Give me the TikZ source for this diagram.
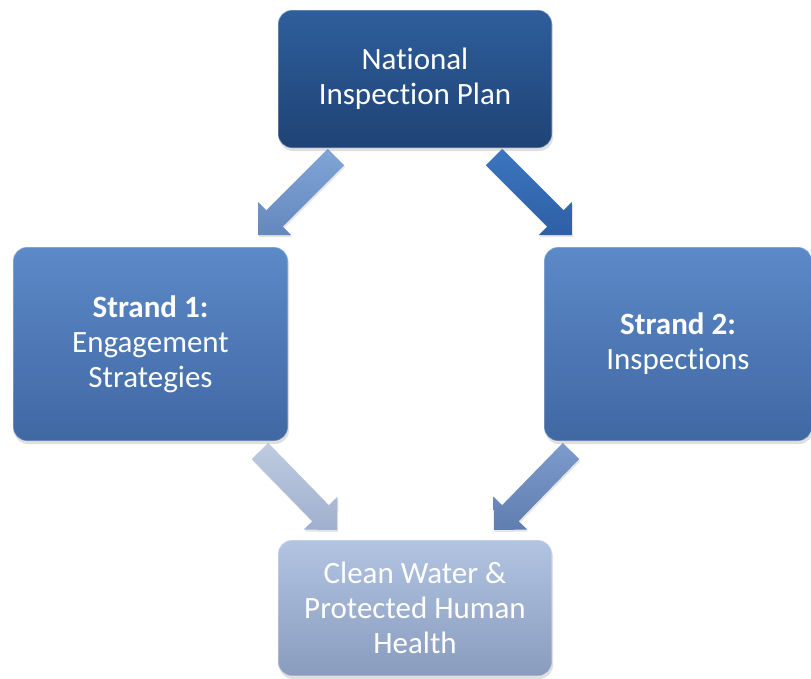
\documentclass[tikz,border=0pt]{standalone}
\usepackage{fontspec}
\setmainfont{Carlito}[Ligatures=NoCommon]
\usetikzlibrary{calc,shadows}
\definecolor{topA}{HTML}{2E5E9B}
\definecolor{topB}{HTML}{1F4376}
\definecolor{midA}{HTML}{5C89C8}
\definecolor{midB}{HTML}{4068A3}
\definecolor{botA}{HTML}{B2C4E2}
\definecolor{botB}{HTML}{8A9CBE}
\definecolor{arrA1}{HTML}{82A5D7}
\definecolor{arrB1}{HTML}{6487BE}
\definecolor{arrA2}{HTML}{3C76BE}
\definecolor{arrB2}{HTML}{2D5FA5}
\definecolor{arrA3}{HTML}{BECBE1}
\definecolor{arrB3}{HTML}{A0AFCD}
\definecolor{arrA4}{HTML}{7D9BCD}
\definecolor{arrB4}{HTML}{5F7DAF}
\newcommand\blockarr[3]{%
  \coordinate (#1n) at ($(#2)!23.5pt!(#1)$);
  \path[#3] ($(#1)!11.5pt!90:(#2)$) -- ($(#1n)!11.5pt!90:(#2)$) -- ($(#1n)!23.5pt!90:(#2)$) -- (#2)
    -- ($(#1n)!23.5pt!-90:(#2)$) -- ($(#1n)!11.5pt!-90:(#2)$) -- ($(#1)!11.5pt!-90:(#2)$) -- cycle;}
\begin{document}
\begin{tikzpicture}[x=1pt,y=-1pt]
\tikzset{
  boxstyle/.style={rounded corners=14pt, inner sep=0pt, text=white, align=center,
    font=\fontsize{31}{35}\selectfont,
    draw=white, draw opacity=0.35, line width=1.2pt,
    drop shadow={opacity=0.25, shadow xshift=1pt, shadow yshift=-3pt}},
  arrstyle/.style={drop shadow={opacity=0.2, shadow xshift=1pt, shadow yshift=-2pt}}
}
\useasboundingbox (0,0) rectangle (811,678);
\fill[white] (0,0) rectangle (811,678);
% arrow end points
\coordinate (a1t) at (336,157); \coordinate (a1h) at (258,235);
\coordinate (a2t) at (494,157); \coordinate (a2h) at (572,235);
\coordinate (a3t) at (260,451); \coordinate (a3h) at (337,530);
\coordinate (a4t) at (571,451); \coordinate (a4h) at (494,530);
\blockarr{a1t}{a1h}{arrstyle, top color=arrA1, bottom color=arrB1}
\blockarr{a2t}{a2h}{arrstyle, top color=arrA2, bottom color=arrB2}
\blockarr{a3t}{a3h}{arrstyle, top color=arrA3, bottom color=arrB3}
\blockarr{a4t}{a4h}{arrstyle, top color=arrA4, bottom color=arrB4}
% boxes
\node[boxstyle, minimum width=274pt, minimum height=138pt, top color=topA, bottom color=topB]
  (plan) at (415,79) {National\\Inspection Plan};
\node[boxstyle, minimum width=275pt, minimum height=194pt, top color=midA, bottom color=midB]
  (s1) at (150.5,344) {\textbf{Strand 1:}\\Engagement\\Strategies};
\node[boxstyle, minimum width=268pt, minimum height=194pt, top color=midA, bottom color=midB]
  (s2) at (678,344) {\textbf{Strand 2:}\\Inspections};
\node[boxstyle, minimum width=274pt, minimum height=136pt, top color=botA, bottom color=botB]
  (goal) at (415,608) {Clean Water \&\\Protected Human\\Health};
\end{tikzpicture}
\end{document}
